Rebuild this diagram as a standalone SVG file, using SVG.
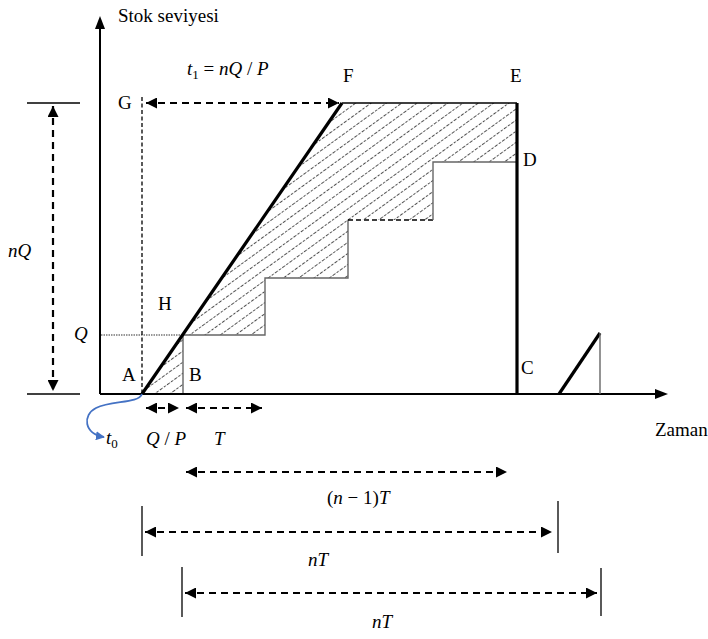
<svg xmlns="http://www.w3.org/2000/svg" width="708" height="639" viewBox="0 0 708 639">
<style>
text{font-family:'Liberation Serif','DejaVu Serif',serif;fill:#000}
.lbl{font-size:19px}
.m{font-size:19px}
.i{font-style:italic}
.axis{stroke:#000;stroke-width:2;fill:none}
.thick{stroke:#000;stroke-width:3.2;fill:none}
.thin{stroke:#666;stroke-width:1.4;fill:none}
.dash{stroke:#000;stroke-width:2.2;stroke-dasharray:7 5;fill:none}
.tick{stroke:#000;stroke-width:1.3;fill:none}
</style>
<defs>
<pattern id="hatch" width="9" height="9" patternUnits="userSpaceOnUse" patternTransform="rotate(-36)">
<line x1="0" y1="4.5" x2="9" y2="4.5" stroke="#222" stroke-width="0.8" stroke-dasharray="2.5 1.5"/>
</pattern>
<marker id="ah" viewBox="0 0 10 10" refX="10" refY="5" markerWidth="5.5" markerHeight="5" orient="auto-start-reverse" markerUnits="strokeWidth">
<path d="M0,0 L10,5 L0,10 z" fill="#000"/>
</marker>
<marker id="ahb" viewBox="0 0 10 10" refX="9" refY="5" markerWidth="9" markerHeight="9" orient="auto" markerUnits="userSpaceOnUse">
<path d="M0,0 L10,5 L0,10 z" fill="#4472C4"/>
</marker>
</defs>

<g id="hatched-area">
<path d="M142,394 L342,103 L517,103 L517,162 L433,162 L433,220 L348,220 L348,278 L265,278 L265,335 L183,335 L183,394 Z" fill="url(#hatch)" stroke="none"/>
</g>

<g id="steps">
<path class="thin" d="M183,394 V335 H265 V278 H348 V220"/>
<path d="M348,220 H433" stroke="#000" stroke-width="1.4" stroke-dasharray="5 3" fill="none"/>
<path class="thin" d="M433,220 V162 H517"/>
<line x1="342" y1="103" x2="517" y2="103" stroke="#000" stroke-width="1.5"/>
<line x1="101" y1="335" x2="183" y2="335" stroke="#777" stroke-width="1.3" stroke-dasharray="1.5 1"/>
<line x1="142" y1="97" x2="142" y2="393" stroke="#000" stroke-width="1.3" stroke-dasharray="4 2.5"/>
</g>

<g id="axes">
<line class="axis" x1="100" y1="394" x2="100" y2="28"/>
<path d="M100,16 L95,29 L105,29 Z" fill="#000"/>
<line class="axis" x1="100" y1="394" x2="656" y2="394"/>
<path d="M668,394 L655,389 L655,399 Z" fill="#000"/>
</g>

<g id="inventory-lines">
<line class="thick" x1="142" y1="394" x2="342" y2="103"/>
<line class="thick" x1="517" y1="103" x2="517" y2="395"/>
<line class="thick" x1="559" y1="394" x2="600" y2="333"/>
<line class="thin" x1="600" y1="333" x2="600" y2="394"/>
</g>

<g id="connectors">
<line class="dash" x1="146" y1="103" x2="339" y2="103" marker-start="url(#ah)" marker-end="url(#ah)"/>
<line class="tick" x1="27" y1="103" x2="80" y2="103"/>
<line class="tick" x1="27" y1="394" x2="80" y2="394"/>
<line class="dash" x1="53" y1="106" x2="53" y2="391" marker-start="url(#ah)" marker-end="url(#ah)"/>
<line class="dash" x1="146" y1="408" x2="179" y2="408" marker-start="url(#ah)" marker-end="url(#ah)"/>
<line class="dash" x1="186" y1="408" x2="262" y2="408" marker-start="url(#ah)" marker-end="url(#ah)"/>
<line class="dash" x1="186" y1="472" x2="507" y2="472" marker-start="url(#ah)" marker-end="url(#ah)"/>
<line class="tick" x1="142" y1="506" x2="142" y2="556"/>
<line class="tick" x1="558" y1="501" x2="558" y2="553"/>
<line class="dash" x1="145" y1="532" x2="552" y2="532" marker-start="url(#ah)" marker-end="url(#ah)"/>
<line class="tick" x1="182" y1="567" x2="182" y2="617"/>
<line class="tick" x1="601" y1="568" x2="601" y2="616"/>
<line class="dash" x1="185" y1="593" x2="597" y2="593" marker-start="url(#ah)" marker-end="url(#ah)"/>
<path d="M142,394 C138,404 112,400 96,408 C82,415 84,434 104,437" stroke="#4472C4" stroke-width="1.8" fill="none" marker-end="url(#ahb)"/>
</g>

<g id="labels" font-family="Liberation Serif, DejaVu Serif, serif">
<text class="lbl" x="118" y="22">Stok seviyesi</text>
<text class="lbl" x="655" y="436">Zaman</text>
<text class="lbl" x="118" y="109">G</text>
<text class="lbl" x="343" y="82">F</text>
<text class="lbl" x="510" y="82">E</text>
<text class="lbl" x="523" y="166">D</text>
<text class="lbl" x="158" y="310">H</text>
<text class="lbl" x="122" y="381">A</text>
<text class="lbl" x="189" y="381">B</text>
<text class="lbl" x="521" y="374">C</text>
<text class="m" x="187" y="75"><tspan class="i">t</tspan><tspan font-size="13" dy="4">1</tspan><tspan dy="-4"> = </tspan><tspan class="i">nQ</tspan> / <tspan class="i">P</tspan></text>
<text class="m i" x="8" y="257">nQ</text>
<text class="m i" x="74" y="340">Q</text>
<text class="m" x="106" y="444"><tspan class="i">t</tspan><tspan font-size="13" dy="4">0</tspan></text>
<text class="m" x="146" y="445"><tspan class="i">Q</tspan> / <tspan class="i">P</tspan></text>
<text class="m i" x="214" y="445">T</text>
<text class="m" x="327" y="504">(<tspan class="i">n</tspan> − 1)<tspan class="i">T</tspan></text>
<text class="m i" x="308" y="566">nT</text>
<text class="m i" x="372" y="628">nT</text>
</g>
</svg>
